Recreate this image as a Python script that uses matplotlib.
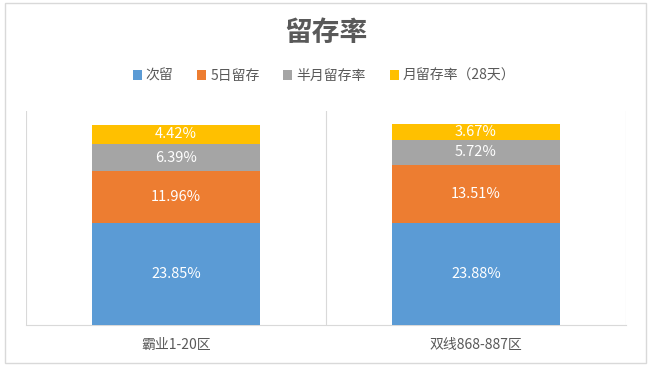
import matplotlib
import matplotlib.pyplot as plt
import numpy as np
from matplotlib.patches import Rectangle

matplotlib.use("Agg")

plt.rcParams["font.family"] = ["Noto Sans CJK SC", "DejaVu Sans"]

# ---------------------------------------------------------------------------
# Data (percent)
# ---------------------------------------------------------------------------
categories = ["霸业1-20区", "双线868-887区"]
series_names = ["次留", "5日留存", "半月留存率", "月留存率（28天）"]
next_day = [23.85, 23.88]
day5 = [11.96, 13.51]
half_month = [6.39, 5.72]
month28 = [4.42, 3.67]
colors = ["#5B9BD5", "#ED7D31", "#A5A5A5", "#FFC000"]

TEXT_GREY = "#595959"
LINE_GREY = "#D9D9D9"

fig = plt.figure(figsize=(6.51, 3.68), dpi=100)
ax = fig.add_axes([26 / 651, 1 - 325 / 368, 600 / 651, 214.5 / 368])

x = np.arange(len(categories))
bottom = np.zeros(len(categories))
for name, vals, col in zip(series_names, [next_day, day5, half_month, month28], colors):
    vals = np.asarray(vals)
    bars = ax.bar(x, vals, width=0.56, bottom=bottom, color=col, label=name, zorder=3)
    for bar, v, b in zip(bars, vals, bottom):
        ax.text(bar.get_x() + bar.get_width() / 2, b + v / 2, f"{v:.2f}%",
                ha="center", va="center", color="white", fontsize=10.5, zorder=4)
    bottom = bottom + vals

ax.set_xlim(-0.5, len(categories) - 0.5)
ax.set_ylim(0, 50)
ax.set_yticks([])
ax.set_xticks(x)
ax.set_xticklabels(categories, fontsize=10, color=TEXT_GREY)
ax.tick_params(axis="x", length=0, pad=9)

# vertical gridlines between categories
ax.set_xticks(np.arange(-0.5, len(categories)), minor=True)
ax.tick_params(axis="x", which="minor", length=0)
ax.grid(True, which="minor", axis="x", color=LINE_GREY, linewidth=0.8, zorder=0)

for side in ["top", "left", "right"]:
    ax.spines[side].set_visible(False)
ax.spines["bottom"].set_color(LINE_GREY)
ax.spines["bottom"].set_linewidth(0.8)

fig.text(326 / 651, 1 - 33 / 368, "留存率", ha="center", va="center",
         fontsize=20, fontweight="bold", color=TEXT_GREY)

leg = fig.legend(loc="center", bbox_to_anchor=(324 / 651, 1 - 76 / 368), ncol=4,
                 frameon=False, fontsize=10, handlelength=0.65, handleheight=0.65,
                 handletextpad=0.3, columnspacing=1.7)
for t in leg.get_texts():
    t.set_color(TEXT_GREY)

# outer chart border
fig.patches.append(Rectangle((5 / 651, 1 - 363 / 368), 641 / 651, 360 / 368,
                             transform=fig.transFigure, fill=False,
                             edgecolor=LINE_GREY, linewidth=1.0))

fig.savefig("out.png", dpi=100)
plt.close(fig)
